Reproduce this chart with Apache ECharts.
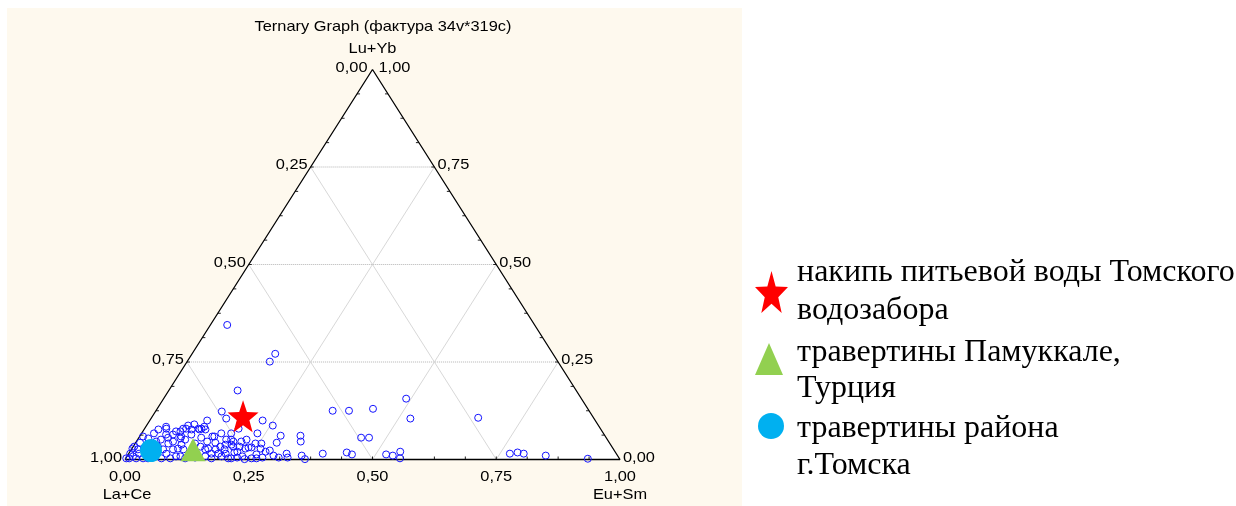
<!DOCTYPE html>
<html>
<head>
<meta charset="utf-8">
<script src="https://cdn.jsdelivr.net/npm/echarts@6/dist/echarts.min.js"></script>
<style>
  html, body { margin: 0; padding: 0; background: #ffffff; }
  #chart { width: 1236px; height: 506px; }
</style>
</head>
<body>
<div id="chart"></div>
<script>
// ---- Ternary data: each row is [La+Ce, Eu+Sm, Lu+Yb] (fractions summing to 1) ----
const samples = [
  [0.621,0.034,0.345],[0.561,0.168,0.271],[0.582,0.167,0.251],[0.684,0.139,0.177],
  [0.743,0.134,0.123],[0.784,0.116,0.100],[0.672,0.228,0.100],[0.658,0.255,0.087],
  [0.655,0.284,0.061],[0.731,0.190,0.079],[0.518,0.357,0.125],[0.485,0.390,0.125],
  [0.434,0.436,0.130],[0.354,0.490,0.156],[0.371,0.524,0.105],[0.233,0.660,0.107],
  [0.495,0.449,0.056],[0.479,0.465,0.056],[0.615,0.324,0.061],[0.622,0.332,0.046],
  [0.638,0.352,0.010],[0.636,0.363,0.001],[0.593,0.392,0.015],[0.543,0.439,0.018],
  [0.535,0.452,0.013],[0.466,0.521,0.013],[0.454,0.536,0.010],[0.434,0.546,0.020],
  [0.443,0.554,0.003],[0.215,0.770,0.015],[0.198,0.784,0.018],[0.187,0.798,0.015],
  [0.145,0.845,0.010],[0.064,0.934,0.002],[0.699,0.234,0.067],[0.735,0.234,0.031],
  [0.729,0.240,0.031],[0.712,0.260,0.028],[0.672,0.285,0.043],[0.763,0.217,0.020],
  [0.759,0.233,0.008],[0.758,0.241,0.001],[0.728,0.259,0.013],[0.695,0.295,0.010],
  [0.666,0.319,0.015],[0.669,0.326,0.005],[0.771,0.224,0.005],[0.743,0.254,0.003],
  [0.729,0.220,0.051],[0.811,0.112,0.077],[0.799,0.124,0.077],[0.794,0.147,0.059],
  [0.772,0.161,0.067],[0.752,0.181,0.067],[0.760,0.189,0.051],[0.766,0.196,0.038],
  [0.857,0.084,0.059],[0.853,0.096,0.051],[0.867,0.095,0.038],[0.869,0.105,0.026],
  [0.834,0.102,0.064],[0.838,0.121,0.041],[0.831,0.136,0.033],[0.825,0.149,0.026],
  [0.818,0.154,0.028],[0.818,0.167,0.015],[0.804,0.170,0.026],[0.804,0.181,0.015],
  [0.801,0.191,0.008],[0.789,0.196,0.015],[0.790,0.207,0.003],[0.824,0.173,0.003],
  [0.834,0.158,0.008],[0.884,0.108,0.008],[0.877,0.120,0.003],[0.784,0.213,0.003],
  [0.791,0.176,0.033],[0.778,0.184,0.038],[0.877,0.044,0.079],[0.885,0.051,0.064],
  [0.861,0.067,0.072],[0.902,0.047,0.051],[0.892,0.067,0.041],[0.880,0.074,0.046],
  [0.861,0.085,0.054],[0.910,0.064,0.026],[0.909,0.076,0.015],[0.890,0.084,0.026],
  [0.879,0.093,0.028],[0.907,0.090,0.003],[0.893,0.099,0.008],[0.982,0.003,0.015],
  [0.980,0.012,0.008],[0.976,0.021,0.003],[0.996,0.001,0.003],[0.934,0.007,0.059],
  [0.971,0.001,0.028],[0.961,0.013,0.026],[0.925,0.072,0.003],[0.875,0.041,0.084],
  [0.894,0.029,0.077],[0.852,0.076,0.072],[0.837,0.084,0.079],[0.827,0.096,0.077],
  [0.812,0.109,0.079],[0.806,0.115,0.079],[0.798,0.118,0.084],[0.790,0.151,0.059],
  [0.758,0.196,0.046],[0.765,0.202,0.033],[0.742,0.212,0.046],[0.743,0.229,0.028],
  [0.716,0.243,0.041],[0.706,0.274,0.020],[0.733,0.264,0.003],[0.743,0.152,0.105],
  [0.861,0.124,0.015],[0.856,0.139,0.005],[0.796,0.161,0.043],[0.770,0.179,0.051],
  [0.965,0.002,0.033],[0.926,0.020,0.054],[0.908,0.025,0.067],[0.914,0.040,0.046],
  [0.948,0.009,0.043],[0.947,0.025,0.028],[0.917,0.050,0.033],[0.952,0.045,0.003],
  [0.962,0.035,0.003],[0.885,0.059,0.056],[0.871,0.065,0.064],[0.843,0.078,0.079],
  [0.829,0.084,0.087],[0.815,0.095,0.090],[0.818,0.126,0.056],[0.811,0.143,0.046],
  [0.786,0.188,0.026],[0.770,0.212,0.018],[0.752,0.215,0.033],[0.687,0.308,0.005],
  [0.720,0.275,0.005],[0.696,0.281,0.023],[0.990,0.007,0.003],[0.964,0.021,0.015],
  [0.704,0.255,0.041]
];

const scaleDeposit    = [[0.706, 0.183, 0.111]];  // накипь питьевой воды
const pamukkale       = [[0.850, 0.125, 0.025]];  // травертины Памуккале
const tomskTravertine = [[0.936, 0.041, 0.023]];  // травертины района г.Томска

const tickValues = [0, 0.25, 0.5, 0.75, 1];
const tickLabels = ['0,00', '0,25', '0,50', '0,75', '1,00'];
const gridLevels = [0.25, 0.5, 0.75];
const axisNames = { left: 'La+Ce', right: 'Eu+Sm', top: 'Lu+Yb' };
const chartTitle = 'Ternary Graph (фактура 34v*319c)';

const nameScale = 'накипь питьевой воды Томского\nводозабора';
const namePamukkale = 'травертины Памуккале,\nТурция';
const nameTomsk = 'травертины района\nг.Томска';

// ---- ternary -> plane (x along La+Ce→Eu+Sm base, y toward Lu+Yb apex) ----
function toXY(a, b, c) {
  const s = a + b + c;
  return [(b + c / 2) / s, c / s];
}
const pts = arr => arr.map(r => toXY(r[0], r[1], r[2]));

const V_A = toXY(1, 0, 0), V_B = toXY(0, 1, 0), V_C = toXY(0, 0, 1);

// grid lines of constant component value
const gridSegs = [];
gridLevels.forEach(k => {
  const p1 = toXY(1 - k, 0, k), p2 = toXY(0, 1 - k, k);      // Lu+Yb = k
  gridSegs.push([p1[0], p1[1], p2[0], p2[1], 0]);
  const q1 = toXY(k, 0, 1 - k), q2 = toXY(k, 1 - k, 0);      // La+Ce = k
  gridSegs.push([q1[0], q1[1], q2[0], q2[1], 1]);
  const r1 = toXY(0, k, 1 - k), r2 = toXY(1 - k, k, 0);      // Eu+Sm = k
  gridSegs.push([r1[0], r1[1], r2[0], r2[1], 1]);
});

// minor ticks along the edges every 1/16
const ticks = [];
for (let i = 1; i < 16; i++) {
  const t = i / 16;
  const b = toXY(1 - t, t, 0); ticks.push([b[0], b[1], 0]);
  const l = toXY(1 - t, 0, t); ticks.push([l[0], l[1], 1]);
  const r = toXY(0, 1 - t, t); ticks.push([r[0], r[1], 2]);
}

// axis tick labels and axis names (labels beside the apex sit a little wider apart)
const labelItems = [];
tickValues.forEach((v, i) => {
  const L = toXY(v, 0, 1 - v);
  labelItems.push({ p: L, text: tickLabels[i], align: 'right', dx: v === 0 ? -5 : -3, dy: -2 });
  const R = toXY(0, 1 - v, v);
  labelItems.push({ p: R, text: tickLabels[i], align: 'left', dx: v === 1 ? 6 : 3, dy: -2 });
  const B = toXY(1 - v, v, 0);
  labelItems.push({ p: B, text: tickLabels[i], align: 'center', dx: 0, dy: 17 });
});
labelItems.push({ p: V_C, text: axisNames.top, align: 'center', dx: 0, dy: -21 });
labelItems.push({ p: V_A, text: axisNames.left, align: 'center', dx: 2, dy: 35 });
labelItems.push({ p: V_B, text: axisNames.right, align: 'center', dx: 0, dy: 35 });

const FONT = "'Liberation Sans', Arial, sans-serif";
const TEXT_SCALE_X = 1.13;
const STAR = 'path://M12,0.5 L14.9,8.6 L23.5,8.9 L16.7,14.2 L19.1,22.5 L12,17.7 L4.9,22.5 L7.3,14.2 L0.5,8.9 L9.1,8.6 Z';

const chart = echarts.init(document.getElementById('chart'), null, { renderer: 'canvas' });

// legend text: a thin spacer line on top lets the label sit lower than its marker
function legendTextStyle(lineHeight, spacer, padLeft) {
  return {
    fontFamily: "'Liberation Serif', 'Times New Roman', serif",
    fontSize: 32,
    lineHeight: lineHeight,
    color: '#000',
    padding: [0, 0, 0, padLeft],
    rich: { s: { fontSize: 4, lineHeight: spacer } }
  };
}
const spacerFormatter = name => '{s| }\n' + name;

chart.setOption({
  animation: false,
  backgroundColor: '#ffffff',
  graphic: [
    { type: 'rect', z: -10, silent: true, shape: { x: 7, y: 8, width: 735, height: 498 }, style: { fill: '#fef9ee' } },
    { type: 'text', z: 10, x: 383, y: 27, scaleX: TEXT_SCALE_X,
      style: { text: chartTitle, font: '14.5px ' + FONT, fill: '#000', align: 'center', verticalAlign: 'middle' } }
  ],
  grid: { left: 125, top: 69.5, width: 495, height: 390, show: false },
  xAxis: { type: 'value', min: 0, max: 1, show: false },
  yAxis: { type: 'value', min: 0, max: 1, show: false },
  legend: [
    { data: [{ name: nameScale, icon: STAR }], left: 755, top: 254, padding: 0,
      itemWidth: 33, itemHeight: 42, symbolKeepAspect: false, selectedMode: false,
      textStyle: legendTextStyle(38, 1, 4) },
    { data: [{ name: namePamukkale, icon: 'triangle' }], left: 755, top: 311, padding: 0,
      itemWidth: 28, itemHeight: 32, symbolKeepAspect: false, selectedMode: false,
      formatter: spacerFormatter,
      textStyle: legendTextStyle(36, 24, 9) },
    { data: [{ name: nameTomsk, icon: 'circle' }], left: 758, top: 368, padding: 0,
      itemWidth: 26, itemHeight: 30, symbolKeepAspect: false, selectedMode: false,
      formatter: spacerFormatter,
      textStyle: legendTextStyle(37, 42, 8) }
  ],
  series: [
    { // white triangle field
      type: 'custom', z: 1, silent: true,
      data: [[V_A[0], V_A[1]]],
      renderItem: (params, api) => ({
        type: 'polygon',
        shape: { points: [api.coord(V_A), api.coord(V_B), api.coord(V_C)] },
        style: { fill: '#ffffff' }
      })
    },
    { // inner grid
      type: 'custom', z: 2, silent: true, clip: false,
      encode: { x: [0, 2], y: [1, 3] },
      data: gridSegs,
      renderItem: (params, api) => {
        const p1 = api.coord([api.value(0), api.value(1)]);
        const p2 = api.coord([api.value(2), api.value(3)]);
        const horizontal = api.value(4) === 0;
        return {
          type: 'line',
          shape: { x1: p1[0], y1: p1[1], x2: p2[0], y2: p2[1] },
          style: horizontal
            ? { stroke: '#b4b4b4', lineWidth: 1, lineDash: [1, 1] }
            : { stroke: '#d8d8d8', lineWidth: 1 }
        };
      }
    },
    { // edge ticks
      type: 'custom', z: 3, silent: true, clip: false,
      encode: { x: 0, y: 1 },
      data: ticks,
      renderItem: (params, api) => {
        const p = api.coord([api.value(0), api.value(1)]);
        const side = api.value(2);
        let dx = 0, dy = 0;
        if (side === 0) dy = -3; else if (side === 1) dx = 3; else dx = -3;
        return {
          type: 'line',
          shape: { x1: p[0], y1: p[1], x2: p[0] + dx, y2: p[1] + dy },
          style: { stroke: '#222', lineWidth: 1 }
        };
      }
    },
    { // triangle outline
      type: 'line', z: 4, silent: true, clip: false, symbol: 'none',
      data: [V_A, V_C, V_B, V_A],
      lineStyle: { color: '#000', width: 1.3 }
    },
    { // samples
      name: 'samples', type: 'scatter', z: 5, clip: false, silent: true,
      symbol: 'circle', symbolSize: 7,
      data: pts(samples),
      itemStyle: { color: 'rgba(0,0,0,0)', borderColor: '#1414ff', borderWidth: 1, opacity: 1 }
    },
    {
      name: nameTomsk, type: 'scatter', z: 6, clip: false, silent: true,
      symbol: 'circle', symbolSize: [22, 23],
      data: pts(tomskTravertine),
      itemStyle: { color: '#00b0f0', opacity: 1 }
    },
    {
      name: namePamukkale, type: 'scatter', z: 6, clip: false, silent: true,
      symbol: 'triangle', symbolSize: [25, 23],
      data: pts(pamukkale),
      itemStyle: { color: '#92d050', opacity: 1 }
    },
    {
      name: nameScale, type: 'scatter', z: 7, clip: false, silent: true,
      symbol: STAR, symbolSize: [31, 32], symbolKeepAspect: false,
      data: pts(scaleDeposit),
      itemStyle: { color: '#ff0000', opacity: 1 }
    },
    { // tick labels and axis names
      type: 'custom', z: 8, silent: true, clip: false,
      encode: { x: 0, y: 1 },
      data: labelItems.map((d, i) => [d.p[0], d.p[1], i]),
      renderItem: (params, api) => {
        const d = labelItems[api.value(2)];
        const p = api.coord([api.value(0), api.value(1)]);
        return {
          type: 'text',
          x: p[0] + d.dx, y: p[1] + d.dy, scaleX: TEXT_SCALE_X,
          style: { text: d.text, font: '14.5px ' + FONT, fill: '#000', align: d.align, verticalAlign: 'middle' }
        };
      }
    }
  ]
});
</script>
</body>
</html>
